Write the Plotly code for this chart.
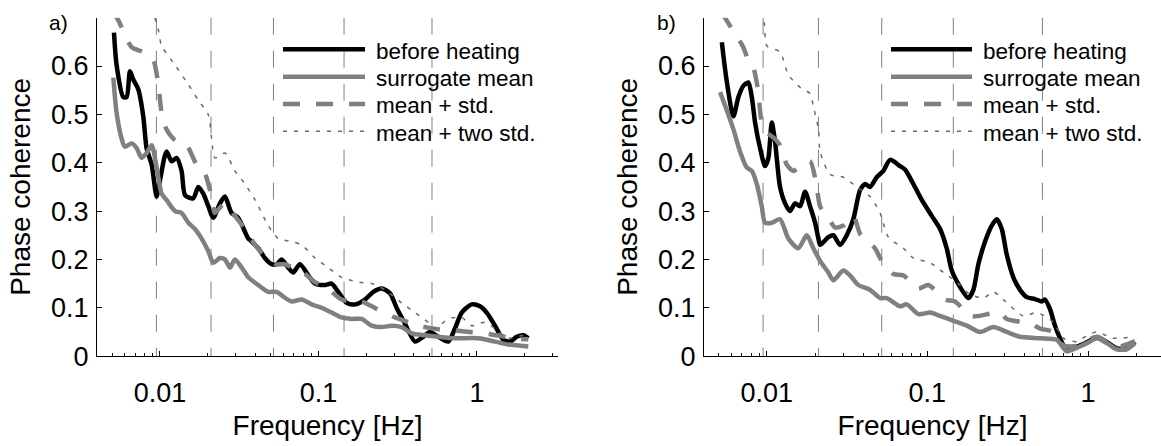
import plotly.graph_objects as go

FONT = "Liberation Sans, Arial, Helvetica, sans-serif"
W, H = 1161, 446

# ---------------- data (frequency in Hz, phase coherence) ----------------
band_edges = [0.0095, 0.021, 0.052, 0.145, 0.52]

# panel a
a_f_before = [0.00513, 0.00533, 0.00587, 0.00617, 0.00647, 0.00679, 0.0073, 0.00785, 0.00824, 0.00887,
              0.00953, 0.0100, 0.0110, 0.01186, 0.01274, 0.0137, 0.0144, 0.0162, 0.01746, 0.01877,
              0.0202, 0.0217, 0.0239, 0.0257, 0.0283, 0.0312, 0.0361, 0.0379, 0.0417, 0.0459,
              0.0507, 0.0545, 0.0586, 0.0645, 0.0693, 0.0764, 0.0863, 0.0951, 0.110, 0.121,
              0.1333, 0.1507, 0.170, 0.1965, 0.2217, 0.2504, 0.2826, 0.311, 0.3513, 0.4064,
              0.458, 0.505, 0.570, 0.659, 0.726, 0.801, 0.926, 1.044, 1.151, 1.299,
              1.465, 1.615, 1.781, 1.959, 2.107]
a_before = [0.669, 0.602, 0.536, 0.536, 0.589, 0.572, 0.552, 0.496, 0.430, 0.396,
            0.330, 0.363, 0.423, 0.403, 0.410, 0.383, 0.333, 0.326, 0.350, 0.336,
            0.310, 0.286, 0.316, 0.330, 0.296, 0.286, 0.243, 0.237, 0.223, 0.203,
            0.190, 0.190, 0.200, 0.183, 0.173, 0.190, 0.167, 0.150, 0.147, 0.150,
            0.133, 0.110, 0.107, 0.117, 0.133, 0.140, 0.130, 0.100, 0.067, 0.030,
            0.040, 0.050, 0.040, 0.030, 0.057, 0.090, 0.107, 0.103, 0.090, 0.063,
            0.034, 0.030, 0.040, 0.043, 0.037]

a_f_mean = [0.00508, 0.00533, 0.00573, 0.00601, 0.00663, 0.00713, 0.00766, 0.00824, 0.00887, 0.00953,
            0.01025, 0.0110, 0.01245, 0.0137, 0.01509, 0.01663, 0.01833, 0.0202, 0.0217, 0.0239,
            0.0257, 0.0277, 0.0297, 0.0328, 0.0361, 0.0417, 0.0482, 0.0545, 0.060, 0.0678,
            0.0783, 0.0906, 0.1047, 0.121, 0.140, 0.162, 0.1874, 0.2167, 0.2504, 0.2897,
            0.335, 0.3873, 0.470, 0.570, 0.726, 1.019, 1.299, 1.576, 2.107]
a_mean = [0.576, 0.503, 0.450, 0.433, 0.440, 0.430, 0.410, 0.420, 0.436, 0.390,
          0.336, 0.323, 0.300, 0.296, 0.276, 0.263, 0.243, 0.217, 0.193, 0.203,
          0.200, 0.183, 0.200, 0.183, 0.163, 0.147, 0.133, 0.133, 0.123, 0.113,
          0.117, 0.107, 0.100, 0.090, 0.080, 0.077, 0.077, 0.063, 0.060, 0.063,
          0.060, 0.047, 0.043, 0.040, 0.037, 0.037, 0.030, 0.024, 0.020]

a_f_std = [0.0051, 0.00546, 0.00663, 0.00785, 0.00908, 0.00976, 0.01025, 0.0110, 0.01274, 0.01474,
           0.01705, 0.01877, 0.0207, 0.0222, 0.0233, 0.0257, 0.0297, 0.0344, 0.0398, 0.0459,
           0.0532, 0.0614, 0.0711, 0.0822, 0.0951, 0.110, 0.124, 0.140, 0.162, 0.1874,
           0.2167, 0.259, 0.304, 0.378, 0.470, 0.584, 0.726, 0.903, 1.123, 1.397,
           1.737, 2.107]
a_std = [0.710, 0.695, 0.639, 0.629, 0.612, 0.562, 0.503, 0.469, 0.443, 0.436,
         0.396, 0.386, 0.343, 0.296, 0.303, 0.316, 0.290, 0.263, 0.230, 0.207,
         0.190, 0.190, 0.180, 0.170, 0.153, 0.143, 0.130, 0.117, 0.113, 0.113,
         0.103, 0.090, 0.080, 0.069, 0.060, 0.055, 0.053, 0.050, 0.047, 0.042,
         0.036, 0.035]

a_f_2std = [0.0051, 0.0073, 0.00953, 0.01025, 0.01245, 0.01509, 0.01746, 0.0202, 0.0212, 0.0222,
            0.0257, 0.0297, 0.0344, 0.0398, 0.0482, 0.0558, 0.0678, 0.0783, 0.0951, 0.1153,
            0.140, 0.178, 0.2167, 0.263, 0.335, 0.4064, 0.493, 0.543, 0.659, 0.801,
            0.926, 1.123, 1.299, 1.576, 2.107]
a_2std = [0.860, 0.760, 0.690, 0.642, 0.602, 0.562, 0.529, 0.499, 0.449, 0.410,
          0.420, 0.383, 0.356, 0.323, 0.270, 0.243, 0.237, 0.230, 0.203, 0.183,
          0.163, 0.153, 0.150, 0.137, 0.110, 0.090, 0.070, 0.057, 0.077, 0.080,
          0.063, 0.070, 0.057, 0.037, 0.047]

# panel b
b_f_before = [0.00526, 0.00564, 0.00621, 0.00667, 0.00716, 0.00769, 0.00808, 0.00847, 0.0091, 0.00977,
              0.01025, 0.01076, 0.01128, 0.01211, 0.01302, 0.01398, 0.01502, 0.01614, 0.01734, 0.01862,
              0.0200, 0.0210, 0.0215, 0.0242, 0.0260, 0.0286, 0.0315, 0.0346, 0.0381, 0.0410,
              0.0440, 0.0484, 0.0532, 0.0586, 0.0676, 0.0726, 0.0818, 0.0923, 0.1065, 0.120,
              0.132, 0.1419, 0.1598, 0.180, 0.1933, 0.2077, 0.2286, 0.2516, 0.2703, 0.2904,
              0.3119, 0.3428, 0.3774, 0.4153, 0.468, 0.515, 0.540, 0.580, 0.623, 0.670,
              0.737, 0.850, 0.989, 1.133, 1.307, 1.509, 1.741, 1.961]
b_before = [0.649, 0.569, 0.496, 0.536, 0.559, 0.566, 0.536, 0.483, 0.430, 0.393,
            0.410, 0.483, 0.443, 0.350, 0.316, 0.300, 0.316, 0.310, 0.340, 0.310,
            0.276, 0.243, 0.230, 0.246, 0.250, 0.230, 0.250, 0.283, 0.343, 0.356,
            0.350, 0.370, 0.383, 0.406, 0.393, 0.386, 0.356, 0.323, 0.290, 0.263,
            0.223, 0.177, 0.143, 0.120, 0.137, 0.190, 0.237, 0.270, 0.283, 0.263,
            0.210, 0.163, 0.137, 0.122, 0.118, 0.113, 0.117, 0.097, 0.063, 0.037,
            0.012, 0.019, 0.029, 0.039, 0.029, 0.016, 0.016, 0.029]

b_f_mean = [0.00513, 0.00564, 0.00621, 0.00683, 0.00752, 0.00808, 0.00868, 0.00932, 0.00977, 0.01076,
            0.01211, 0.01365, 0.01575, 0.01776, 0.01953, 0.0215, 0.0242, 0.0260, 0.0300, 0.0330,
            0.0372, 0.0440, 0.0508, 0.0559, 0.0676, 0.0744, 0.0879, 0.1039, 0.120, 0.1451,
            0.1759, 0.2128, 0.2574, 0.3119, 0.3774, 0.5027, 0.6385, 0.702, 0.737, 0.850,
            0.989, 1.133, 1.307, 1.509, 1.741, 1.961]
b_mean = [0.546, 0.509, 0.469, 0.423, 0.390, 0.383, 0.356, 0.310, 0.276, 0.276,
          0.283, 0.243, 0.223, 0.250, 0.223, 0.197, 0.173, 0.157, 0.177, 0.167,
          0.147, 0.137, 0.120, 0.120, 0.103, 0.107, 0.087, 0.090, 0.083, 0.073,
          0.063, 0.050, 0.060, 0.050, 0.040, 0.037, 0.034, 0.017, 0.010, 0.017,
          0.027, 0.037, 0.027, 0.014, 0.014, 0.027]

b_f_std = [0.00527, 0.00636, 0.00713, 0.00769, 0.00827, 0.00884, 0.00932, 0.01001, 0.01128, 0.01211,
           0.01334, 0.01466, 0.01653, 0.01862, 0.0205, 0.0215, 0.0248, 0.0266, 0.0300, 0.0346,
           0.0381, 0.0428, 0.0473, 0.0508, 0.0614, 0.0709, 0.0879, 0.1014, 0.1289, 0.1487,
           0.1844, 0.2077, 0.2835, 0.3119, 0.4356, 0.5027, 0.608, 0.702, 0.850, 1.133,
           1.509, 1.961]
b_std = [0.710, 0.666, 0.640, 0.612, 0.596, 0.550, 0.483, 0.463, 0.449, 0.436,
         0.396, 0.383, 0.396, 0.403, 0.350, 0.310, 0.280, 0.266, 0.270, 0.290,
         0.253, 0.235, 0.223, 0.203, 0.170, 0.167, 0.140, 0.147, 0.117, 0.113,
         0.083, 0.083, 0.090, 0.077, 0.067, 0.057, 0.050, 0.022, 0.021, 0.040,
         0.019, 0.031]

b_f_2std = [0.00527, 0.0075, 0.00963, 0.01001, 0.01211, 0.01365, 0.01614, 0.01862, 0.01953, 0.0210,
            0.0215, 0.0248, 0.0300, 0.0364, 0.0440, 0.0508, 0.0572, 0.0709, 0.0818, 0.1039,
            0.1258, 0.1524, 0.180, 0.2231, 0.2574, 0.2971, 0.3957, 0.4796, 0.608, 0.702,
            0.850, 0.989, 1.133, 1.430, 1.905]
b_2std = [0.850, 0.770, 0.690, 0.642, 0.629, 0.582, 0.556, 0.543, 0.516, 0.469,
          0.423, 0.376, 0.370, 0.350, 0.330, 0.296, 0.246, 0.223, 0.203, 0.193,
          0.173, 0.153, 0.130, 0.120, 0.133, 0.117, 0.083, 0.090, 0.070, 0.037,
          0.030, 0.043, 0.050, 0.037, 0.040]

x_major = [0.01, 0.1, 1]
x_major_text = ["0.01", "0.1", "1"]
x_minor = [0.005, 0.006, 0.007, 0.008, 0.009, 0.02, 0.03, 0.04, 0.05, 0.06, 0.07, 0.08, 0.09,
           0.2, 0.3, 0.4, 0.5, 0.6, 0.7, 0.8, 0.9, 2, 3]
y_ticks = [0, 0.1, 0.2, 0.3, 0.4, 0.5, 0.6]
y_tick_text = ["0", "0.1", "0.2", "0.3", "0.4", "0.5", "0.6"]

legend_labels = ["before heating", "surrogate mean", "mean + std.", "mean + two std."]
panel_labels = ["a)", "b)"]

# ---------------- styles ----------------
GRAY = "#808080"
styles = [
    dict(color="black", width=4.5, dash="solid"),
    dict(color=GRAY, width=4.5, dash="solid"),
    dict(color=GRAY, width=4.5, dash="17px,16px"),
    dict(color="#6a6a6a", width=1.5, dash="4px,7px"),
]

fig = go.Figure()

panels = [
    ("x", "y", [(a_f_before, a_before), (a_f_mean, a_mean), (a_f_std, a_std), (a_f_2std, a_2std)]),
    ("x2", "y2", [(b_f_before, b_before), (b_f_mean, b_mean), (b_f_std, b_std), (b_f_2std, b_2std)]),
]

for xa, ya, series in panels:
    # band boundary lines
    vx, vy = [], []
    for e in band_edges:
        vx += [e, e, None]
        vy += [0.7, 0.0, None]
    fig.add_trace(go.Scatter(x=vx, y=vy, mode="lines", xaxis=xa, yaxis=ya, showlegend=False,
                             line=dict(color=GRAY, width=1, dash="17px,16px"), hoverinfo="skip"))
    for (fx, fy), st, name in zip(series, styles, legend_labels):
        fig.add_trace(go.Scatter(x=fx, y=fy, mode="lines", xaxis=xa, yaxis=ya, name=name,
                                 showlegend=False,
                                 line=dict(shape="spline", smoothing=0.7, **st)))

# ---------------- axes ----------------
def px_x(p):
    return p / W

def px_y(p):
    return 1 - p / H

ydom = [px_y(368.5), px_y(18.3)]

common_x = dict(
    type="log", showline=True, linecolor="black", linewidth=1, mirror=False,
    ticks="inside", ticklen=5, tickwidth=1, tickcolor="black",
    tickmode="array", tickvals=x_major, ticktext=x_major_text,
    minor=dict(tickmode="array", tickvals=x_minor, ticks="inside", ticklen=3,
               tickwidth=1, tickcolor="black", showgrid=False),
    showgrid=False, zeroline=False, ticklabelstandoff=12,
    tickfont=dict(family=FONT, size=27, color="black"),
    title=dict(text="Frequency [Hz]", font=dict(family=FONT, size=28, color="black"), standoff=8),
)
common_y = dict(
    range=[0, 0.7], showline=True, linecolor="black", linewidth=1, mirror=False,
    ticks="inside", ticklen=5, tickwidth=1, tickcolor="black",
    tickmode="array", tickvals=y_ticks, ticktext=y_tick_text,
    showgrid=False, zeroline=False, domain=ydom, ticklabelstandoff=2,
    tickfont=dict(family=FONT, size=27, color="black"),
    title=dict(text="Phase coherence", font=dict(family=FONT, size=28, color="black"), standoff=12),
)

fig.update_layout(
    width=W, height=H,
    margin=dict(l=0, r=0, t=0, b=0),
    paper_bgcolor="white", plot_bgcolor="white",
    showlegend=False,
    xaxis=dict(common_x, domain=[px_x(97), px_x(558)], range=[-2.397, 0.511], anchor="y"),
    yaxis=dict(common_y, anchor="x"),
    xaxis2=dict(common_x, domain=[px_x(704), 1.0], range=[-2.39, 0.454], anchor="y2"),
    yaxis2=dict(common_y, anchor="x2"),
)

# ---------------- manual legends & panel labels ----------------
legend_rows_y = [51.0, 79.3, 107.6, 135.9]
legend_pos = [(283, 365, 374), (891, 972, 981)]
for (lx0, lx1, tx) in legend_pos:
    for ry, st, lab in zip(legend_rows_y, styles, legend_labels):
        fig.add_shape(type="line", xref="paper", yref="paper",
                      x0=px_x(lx0), x1=px_x(lx1), y0=px_y(ry), y1=px_y(ry),
                      line=dict(color=st["color"], width=st["width"], dash=st["dash"]))
        fig.add_annotation(xref="paper", yref="paper", x=px_x(tx), y=px_y(ry + 2),
                           xanchor="left", yanchor="middle", showarrow=False, text=lab,
                           font=dict(family=FONT, size=22.5, color="black"))

for lab, lx in zip(panel_labels, [47, 655]):
    fig.add_annotation(xref="paper", yref="paper", x=px_x(lx), y=px_y(23),
                       xanchor="left", yanchor="middle", showarrow=False, text=lab,
                       font=dict(family=FONT, size=21, color="black"))

fig.write_html("out.html")
